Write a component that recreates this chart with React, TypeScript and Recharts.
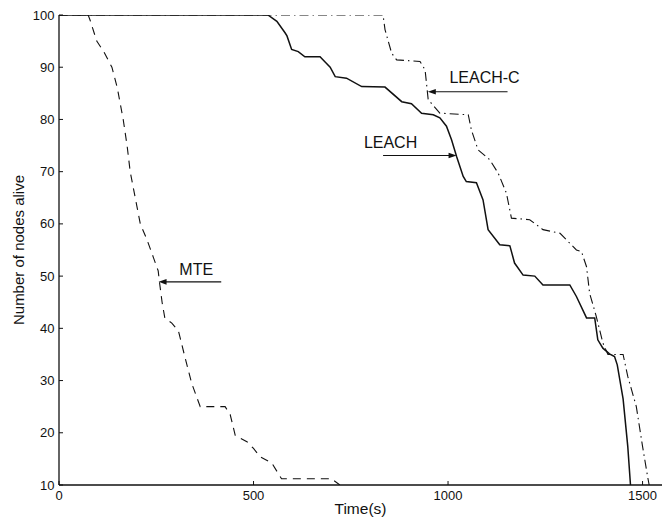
import { LineChart, Line, XAxis, YAxis, ReferenceLine } from 'recharts';

// time (s) / nodes alive, one pair of arrays per protocol
const mteTime = [0, 75, 80, 97, 115, 136, 150, 165, 175, 183, 196, 209, 226, 243, 255, 258, 265, 272, 290, 307, 322, 341, 363, 427, 440, 453, 483, 500, 517, 547, 572, 700, 722];
const mteAlive = [100, 100, 99, 95, 93, 90, 86, 80, 75, 70, 65, 60, 57, 53.5, 51, 49, 45, 42, 41, 39.5, 35, 29.5, 25, 25, 23.5, 19.5, 18.3, 17, 15.4, 14.2, 11.2, 11.2, 10];

const leachTime = [0, 537, 560, 581, 586, 598, 615, 632, 671, 684, 697, 710, 739, 778, 838, 881, 906, 932, 962, 979, 996, 1009, 1022, 1039, 1047, 1073, 1090, 1103, 1133, 1159, 1171, 1193, 1223, 1244, 1313, 1330, 1356, 1377, 1385, 1398, 1415, 1428, 1435, 1450, 1462, 1469];
const leachAlive = [100, 100, 98.8, 96.6, 96, 93.4, 93, 92, 92, 91, 90, 88.2, 87.9, 86.3, 86.2, 83.4, 83, 81.2, 80.9, 80.3, 78.7, 76.1, 72.9, 69.1, 68.1, 67.9, 64.6, 58.9, 56, 55.8, 52.5, 50.2, 50, 48.3, 48.3, 46.1, 42, 42, 37.8, 36.2, 35.1, 34.6, 33, 26.5, 17.4, 10];

const leachCTime = [0, 833, 838, 855, 868, 928, 941, 949, 979, 1052, 1060, 1077, 1107, 1129, 1150, 1163, 1210, 1244, 1288, 1330, 1343, 1356, 1364, 1381, 1398, 1411, 1450, 1462, 1484, 1500, 1513, 1517];
const leachCAlive = [100, 100, 97.2, 92.7, 91.4, 91.1, 89.5, 83.8, 81.2, 80.9, 78, 74.2, 72.3, 69.7, 65.9, 61.1, 60.8, 58.9, 58.2, 55, 54.7, 51.8, 46.7, 42.3, 37.2, 35, 35, 30.8, 25, 17.4, 11.6, 10];

const xTicks = [0, 500, 1000, 1500];
const yTicks = [10, 20, 30, 40, 50, 60, 70, 80, 90, 100];

const zip = (t: number[], v: number[]) => t.map((time, i) => ({ time, alive: v[i] }));
const mteData = zip(mteTime, mteAlive);
const leachData = zip(leachTime, leachAlive);
const leachCData = zip(leachCTime, leachCAlive);

const INK = '#111';
const FONT = '"Liberation Sans", Arial, Helvetica, sans-serif';

// labelled arrows: tail -> head, text placed relative to the tail
const callouts = [
  { text: 'LEACH-C', tail: { x: 1153, y: 85.3 }, head: { x: 948, y: 85.3 }, dx: -23, dy: -8.5 },
  { text: 'LEACH', tail: { x: 833, y: 73.1 }, head: { x: 1022, y: 73.1 }, dx: 7.5, dy: -7.5 },
  { text: 'MTE', tail: { x: 417, y: 48.9 }, head: { x: 256, y: 48.9 }, dx: -25, dy: -6.5 },
];

const YTick = ({ x, y, payload }: any) => (
  <g>
    <line x1={x + 4.5} y1={y} x2={x + 8.5} y2={y} stroke={INK} strokeWidth={1} />
    <text x={x} y={y} dy="0.35em" textAnchor="end" fontSize={13} fontFamily={FONT} fill={INK}>
      {payload.value}
    </text>
  </g>
);

const XTick = ({ x, y, payload }: any) => (
  <g>
    <line x1={x} y1={y} x2={x} y2={y - 4} stroke={INK} strokeWidth={1} />
    <text x={x} y={y + 14.5} textAnchor="middle" fontSize={13} fontFamily={FONT} fill={INK}>
      {payload.value}
    </text>
  </g>
);

const arrowShape = (text: string, dx: number, dy: number) => (props: any) => {
  const { x1, y1, x2, y2 } = props;
  const dir = x2 > x1 ? 1 : -1;
  return (
    <g>
      <line x1={x1} y1={y1} x2={x2 - dir * 6} y2={y2} stroke={INK} strokeWidth={1.2} />
      <polygon points={`${x2},${y2} ${x2 - dir * 8},${y2 - 2.8} ${x2 - dir * 8},${y2 + 2.8}`} fill={INK} />
      <text x={x1 + dx} y={y1 + dy} textAnchor="middle" fontSize={16} fontFamily={FONT} fill={INK}>
        {text}
      </text>
    </g>
  );
};

const YLabel = ({ viewBox }: any) => {
  const cx = viewBox.x + 24;
  const cy = viewBox.y + viewBox.height / 2;
  return (
    <text x={cx} y={cy} transform={`rotate(-90 ${cx} ${cy})`} textAnchor="middle" fontSize={15} fontFamily={FONT} fill={INK}>
      Number of nodes alive
    </text>
  );
};

export default function App() {
  return (
    <div style={{ position: 'absolute', left: 0, top: 0, width: 662, height: 522, background: '#fff' }}>
      <LineChart width={662} height={522} margin={{ top: 15, right: 0, bottom: 0, left: 0 }}>
        <XAxis
          dataKey="time"
          type="number"
          domain={[0, 1550]}
          ticks={xTicks}
          allowDataOverflow
          height={37}
          tickLine={false}
          tickSize={0}
          tickMargin={0}
          tick={<XTick />}
          stroke={INK}
          strokeWidth={1.3}
          label={{ value: 'Time(s)', position: 'insideBottom', offset: 8, fontSize: 15.5, fontFamily: FONT, fill: INK }}
        />
        <YAxis
          dataKey="alive"
          type="number"
          domain={[10, 100]}
          ticks={yTicks}
          allowDataOverflow
          width={59}
          tickLine={false}
          tickSize={0}
          tickMargin={4.5}
          tick={<YTick />}
          stroke={INK}
          strokeWidth={1.3}
          label={<YLabel />}
        />
        <Line data={mteData} dataKey="alive" type="linear" stroke={INK} strokeWidth={1.1} strokeDasharray="8 6" dot={false} isAnimationActive={false} />
        <Line data={leachCData} dataKey="alive" type="linear" stroke={INK} strokeWidth={1.1} strokeDasharray="9 4 1.5 4" dot={false} isAnimationActive={false} />
        <Line data={leachData} dataKey="alive" type="linear" stroke={INK} strokeWidth={1.5} dot={false} isAnimationActive={false} />
        {callouts.map((c) => (
          <ReferenceLine key={c.text} segment={[c.tail, c.head]} shape={arrowShape(c.text, c.dx, c.dy)} />
        ))}
      </LineChart>
    </div>
  );
}
